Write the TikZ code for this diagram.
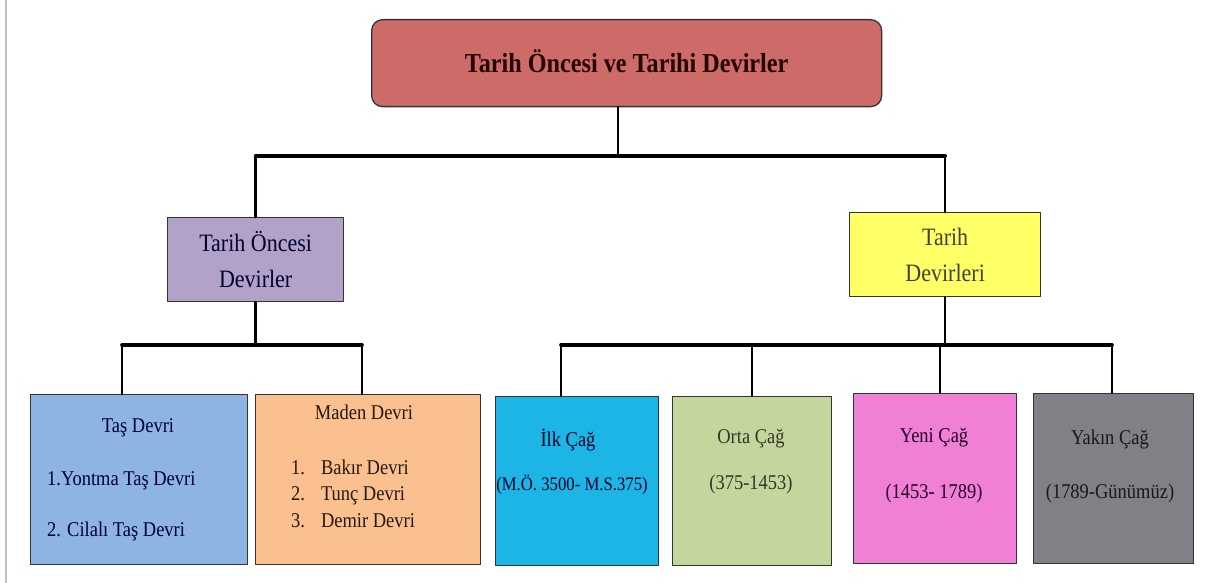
\documentclass[tikz,border=0pt]{standalone}
\usepackage{fontspec}
\setmainfont{Liberation Serif}[FakeStretch=0.88]
\definecolor{rootred}{HTML}{CD6B68}
\definecolor{prepurple}{HTML}{B3A2C7}
\definecolor{taryellow}{HTML}{FFFF66}
\definecolor{tasblue}{HTML}{8EB4E3}
\definecolor{madenorange}{HTML}{FAC090}
\definecolor{ilkcyan}{HTML}{1CB5E6}
\definecolor{ortagreen}{HTML}{C3D69B}
\definecolor{yenipink}{HTML}{F07FD6}
\definecolor{yakingray}{HTML}{808087}
\begin{document}
\begin{tikzpicture}[x=1pt,y=-1pt,line join=round,line cap=round,
	box/.style={draw=black!80,line width=1.3pt,inner sep=0pt,anchor=north west},
	txt/.style={anchor=base,inner sep=0pt,font=\fontsize{21}{24}\selectfont},
	bus/.style={line width=3.6pt},
	stem/.style={line width=2.6pt}]
	\useasboundingbox (0,0) rectangle (1211,583);
	\draw[black!25,line width=2pt] (6,0) -- (6,583);
	% ust kutu
	\node[box,rounded corners=11pt,fill=rootred,minimum width=510pt,minimum height=87pt,text height=18pt,text depth=0pt,
		font=\fontsize{27.5}{32}\selectfont\bfseries,text=black!85!red] (root) at (371,19) {Tarih Öncesi ve Tarihi Devirler};
	\node[box,fill=prepurple,minimum width=176pt,minimum height=84pt,align=center,
		font=\fontsize{25}{36}\selectfont,text=black!80!blue] (pre) at (167,217) {Tarih Öncesi\\Devirler};
	\node[box,fill=taryellow,minimum width=191pt,minimum height=84pt,align=center,
		font=\fontsize{25}{36}\selectfont,text=black!85!yellow] (tar) at (849,212) {Tarih\\Devirleri};
	% alt kutular
	\node[box,fill=tasblue,minimum width=217pt,minimum height=170pt] (tas) at (30,394) {};
	\node[box,fill=madenorange,minimum width=225pt,minimum height=170pt] (maden) at (255,394) {};
	\node[box,fill=ilkcyan,minimum width=163pt,minimum height=169pt] (ilk) at (495,396) {};
	\node[box,fill=ortagreen,minimum width=159pt,minimum height=169pt] (orta) at (672,396) {};
	\node[box,fill=yenipink,minimum width=163pt,minimum height=170pt] (yeni) at (853,393) {};
	\node[box,fill=yakingray,minimum width=160pt,minimum height=170pt] (yakin) at (1033,393) {};
	% yazilar
	\node[txt,text=black!80!blue] (tasT) at (138,432) {Taş Devri};
	\node[txt,anchor=base west,text=black!80!blue] (tasA) at (47,485) {1.Yontma Taş Devri};
	\node[txt,anchor=base west,text=black!80!blue] (tasB) at (47,536) {2. Cilalı Taş Devri};
	\node[txt,text=black!80!brown] (madenT) at (364,419) {Maden Devri};
	\node[txt,anchor=base west,text=black!80!brown] (madenL) at (291,474)
		{\renewcommand{\arraystretch}{1.12}\begin{tabular}[t]{@{}l@{\hspace{16pt}}l@{}}1.&Bakır Devri\\2.&Tunç Devri\\3.&Demir Devri\end{tabular}};
	\node[txt,text=black!85!blue] (ilkA) at (568,446) {İlk Çağ};
	\node[txt,text=black!85!blue,font=\fontsize{19}{24}\selectfont] (ilkB) at (572,490) {(M.Ö. 3500- M.S.375)};
	\node[txt,text=black!80!olive] (ortaA) at (751,443) {Orta Çağ};
	\node[txt,text=black!80!olive] (ortaB) at (751,489) {(375-1453)};
	\node[txt,text=black!70!violet] (yeniA) at (934,442) {Yeni Çağ};
	\node[txt,text=black!70!violet] (yeniB) at (934,498) {(1453- 1789)};
	\node[txt,text=black!90] (yakinA) at (1110,444) {Yakın Çağ};
	\node[txt,text=black!90] (yakinB) at (1110,498) {(1789-Günümüz)};
	% baglantilar
	\coordinate (j0) at (618,156);
	\draw[stem] (j0 |- root.south) -- (j0);
	\draw[bus] (j0 -| pre.north) -- (j0 -| tar.north);
	\draw[stem] (j0 -| pre.north) -- (pre.north);
	\draw[stem] (j0 -| tar.north) -- (tar.north);
	\coordinate (l1) at (122,345);
	\coordinate (l2) at (362,345);
	\draw[stem] (pre.south) -- (pre.south |- l1);
	\draw[bus] (l1) -- (l2);
	\draw[stem] (l1) -- (l1 |- tas.north);
	\draw[stem] (l2) -- (l2 |- maden.north);
	\coordinate (r1) at (561,345);
	\coordinate (r2) at (752,345);
	\coordinate (r3) at (940,345);
	\coordinate (r4) at (1112,345);
	\draw[stem] (tar.south) -- (tar.south |- r3);
	\draw[bus] (r1) -- (r4);
	\draw[stem] (r1) -- (r1 |- ilk.north);
	\draw[stem] (r2) -- (r2 |- orta.north);
	\draw[stem] (r3) -- (r3 |- yeni.north);
	\draw[stem] (r4) -- (r4 |- yakin.north);
\end{tikzpicture}
\end{document}
